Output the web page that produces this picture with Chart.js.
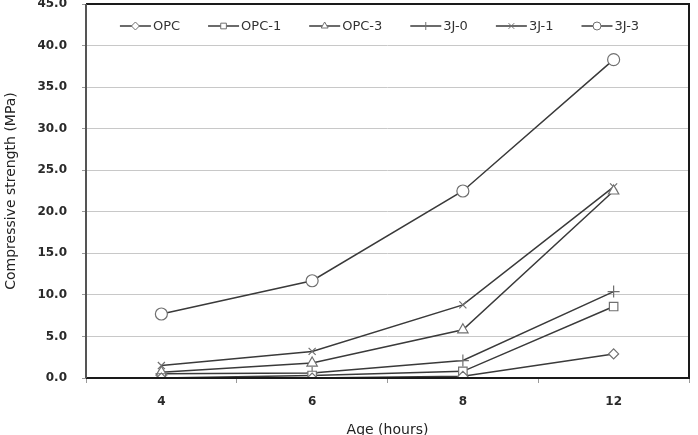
<!DOCTYPE html>
<html>
<head>
<meta charset="utf-8">
<script src="https://cdn.jsdelivr.net/npm/chart.js@4/dist/chart.umd.min.js"></script>
<style>
  html, body { margin: 0; padding: 0; background: #fff; }
  #wrap { width: 698px; height: 435px; position: relative; }
</style>
</head>
<body>
<div id="wrap"><canvas id="c" width="698" height="435"></canvas></div>
<script>
const categories = ['4', '6', '8', '12'];
const seriesNames = ['OPC', 'OPC-1', 'OPC-3', '3J-0', '3J-1', '3J-3'];
const OPC   = [0.0, 0.0, 0.2, 2.9];
const OPC_1 = [0.0, 0.3, 0.8, 8.6];
const OPC_3 = [0.7, 1.8, 5.8, 22.5];
const J3_0  = [0.5, 0.6, 2.1, 10.4];
const J3_1  = [1.5, 3.2, 8.8, 23.0];
const J3_3  = [7.7, 11.7, 22.5, 38.3];
const yTicks = [0, 5, 10, 15, 20, 25, 30, 35, 40, 45];

const seriesData = [OPC, OPC_1, OPC_3, J3_0, J3_1, J3_3];
const pointStyles = ['rectRot', 'rect', 'triangle', 'cross', 'crossRot', 'circle'];
const pointRadii = [5, 6, 6, 6, 5, 6];

const datasets = seriesNames.map((name, i) => ({
  label: name,
  data: seriesData[i],
  borderColor: '#3a3a3a',
  borderWidth: 1.5,
  pointStyle: pointStyles[i],
  pointRadius: pointRadii[i],
  pointBorderColor: '#707070',
  pointBackgroundColor: '#ffffff',
  pointBorderWidth: 1.2,
  tension: 0,
  fill: false
}));

const legendPlugin = {
  id: 'excelLegend',
  afterDatasetsDraw(chart) {
    const ctx = chart.ctx;
    const area = chart.chartArea;
    ctx.save();
    ctx.fillStyle = '#ffffff';
    ctx.fillRect(area.left + 1, area.top + 1, area.right - area.left - 2, 40);
    ctx.font = '13px "DejaVu Sans"';
    const lineLen = 31, gapText = 2, gapItem = 28;
    const widths = chart.data.datasets.map(d => ctx.measureText(d.label).width);
    let total = 0;
    widths.forEach((w, i) => { total += lineLen + gapText + w + (i < widths.length - 1 ? gapItem : 0); });
    let x = (area.left + area.right) / 2 - 8 - total / 2;
    const y = area.top + 22;
    chart.data.datasets.forEach((d, i) => {
      ctx.strokeStyle = '#3a3a3a';
      ctx.lineWidth = 1.5;
      ctx.beginPath();
      ctx.moveTo(x, y);
      ctx.lineTo(x + lineLen, y);
      ctx.stroke();
      ctx.fillStyle = '#ffffff';
      ctx.strokeStyle = '#707070';
      ctx.lineWidth = 1;
      Chart.helpers.drawPoint(ctx, {
        pointStyle: d.pointStyle, radius: 4, borderWidth: 1, rotation: 0
      }, x + lineLen / 2, y);
      ctx.fillStyle = '#333333';
      ctx.textBaseline = 'middle';
      ctx.textAlign = 'left';
      ctx.fillText(d.label, x + lineLen + gapText, y + 1);
      x += lineLen + gapText + widths[i] + gapItem;
    });
    ctx.restore();
  },
  afterDraw(chart) {
    const ctx = chart.ctx;
    const a = chart.chartArea;
    ctx.save();
    ctx.lineWidth = 2;
    ctx.strokeStyle = '#1a1a1a';
    ctx.beginPath();
    ctx.moveTo(a.left, a.top);
    ctx.lineTo(a.right, a.top);
    ctx.lineTo(a.right, a.bottom);
    ctx.lineTo(a.left, a.bottom);
    ctx.stroke();
    ctx.strokeStyle = '#555555';
    ctx.beginPath();
    ctx.moveTo(a.left, a.top);
    ctx.lineTo(a.left, a.bottom);
    ctx.stroke();
    ctx.restore();
  }
};

new Chart(document.getElementById('c'), {
  type: 'line',
  data: { labels: categories, datasets },
  options: {
    responsive: false,
    animation: false,
    layout: { autoPadding: false, padding: { left: 0, right: 9, top: 4, bottom: 0 } },
    plugins: { legend: { display: false }, tooltip: { enabled: false } },
    scales: {
      x: {
        type: 'category',
        offset: true,
        border: { display: false },
        grid: { offset: true, drawOnChartArea: false, drawTicks: true, tickLength: 5, tickColor: '#9a9a9a' },
        ticks: { color: '#2a2a2a', font: { family: 'DejaVu Sans', size: 12, weight: 'bold' }, padding: 12, maxRotation: 0 },
        title: { display: true, text: 'Age (hours)', color: '#222', font: { family: 'DejaVu Sans', size: 14, lineHeight: 1 }, padding: { top: 0, bottom: -2 } },
        afterFit(s) { s.height = 57; s.paddingLeft = 0; s.paddingRight = 0; }
      },
      y: {
        min: 0, max: 45,
        border: { display: false },
        afterBuildTicks(s) { s.ticks = yTicks.map(v => ({ value: v })); },
        grid: { color: '#c8c8c8', lineWidth: 1, tickLength: 4, tickColor: '#9a9a9a' },
        ticks: { color: '#2a2a2a', font: { family: 'DejaVu Sans', size: 12, weight: 'bold' }, padding: 15, callback: v => Number(v).toFixed(1) },
        title: { display: true, text: 'Compressive strength (MPa)', color: '#222', font: { family: 'DejaVu Sans', size: 14, lineHeight: 1.2 }, padding: { top: 3, bottom: 0 } },
        afterFit(s) { s.width = 86; s.paddingTop = 0; s.paddingBottom = 0; }
      }
    }
  },
  plugins: [legendPlugin]
});
</script>
</body>
</html>
